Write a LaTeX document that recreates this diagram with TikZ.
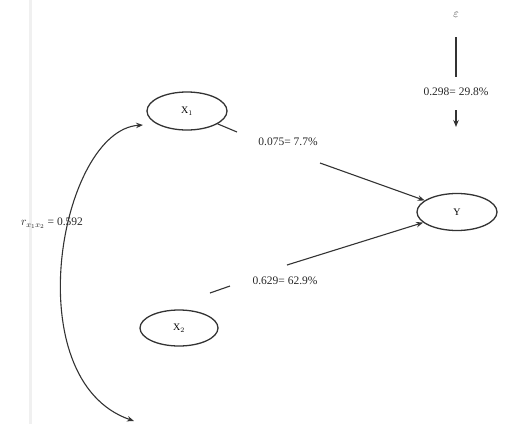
\documentclass[tikz,border=0pt]{standalone}
\usepackage{fontspec}
\setmainfont{Liberation Serif}
\usetikzlibrary{shapes.geometric,arrows.meta}
\begin{document}
\begin{tikzpicture}[x=1pt,y=-1pt,
  var/.style={draw=black!80,line width=1.3pt,ellipse,inner sep=0pt,font=\fontsize{10}{12}\selectfont},
  lbl/.style={font=\fontsize{11.5}{13}\selectfont,text=black!85,inner sep=1pt},
  conn/.style={draw=black!80,line width=1.1pt},
  arr/.style={conn,-{Stealth[length=7pt,width=5.5pt]}}]
\useasboundingbox (0,0) rectangle (507,424);
\draw[black!6,line width=3pt] (30,0) -- (30,424);
\node[var,minimum width=80pt,minimum height=38pt] (x1) at (187,111) {X$_1$};
\node[var,minimum width=78pt,minimum height=36pt] (x2) at (179,328) {X$_2$};
\node[var,minimum width=80pt,minimum height=37pt] (y) at (457,212) {Y};
\node[lbl] (eps) at (456,15) {$\varepsilon$};
\coordinate (e1) at (456,37);
\coordinate (e2) at (456,77);
\coordinate (e3) at (456,110);
\coordinate (e4) at (456,127);
\draw[conn] (e1) -- (e2);
\draw[arr] (e3) -- (e4);
\node[lbl] (le) at (456,92) {0.298= 29.8\%};
\coordinate (a1) at (237,132);
\coordinate (a2) at (320,163);
\draw[conn] (x1) -- (a1);
\draw[arr] (a2) -- (y);
\node[lbl] (l1) at (288,142) {0.075= 7.7\%};
\coordinate (b0) at (210,293);
\coordinate (b1) at (230,286);
\coordinate (b2) at (287,265);
\draw[conn] (b0) -- (b1);
\draw[arr] (b2) -- (y);
\node[lbl] (l2) at (285,281) {0.629= 62.9\%};
\coordinate (c1) at (143,125);
\coordinate (c2) at (134,421);
\draw[conn,{Stealth[length=7pt,width=5.5pt]}-{Stealth[length=7pt,width=5.5pt]}] (c1) .. controls (60,130) and (15,380) .. (c2);
\node[lbl] (lr) at (52,223) {$r_{x_1x_2}$ = 0.592};
\end{tikzpicture}
\end{document}
